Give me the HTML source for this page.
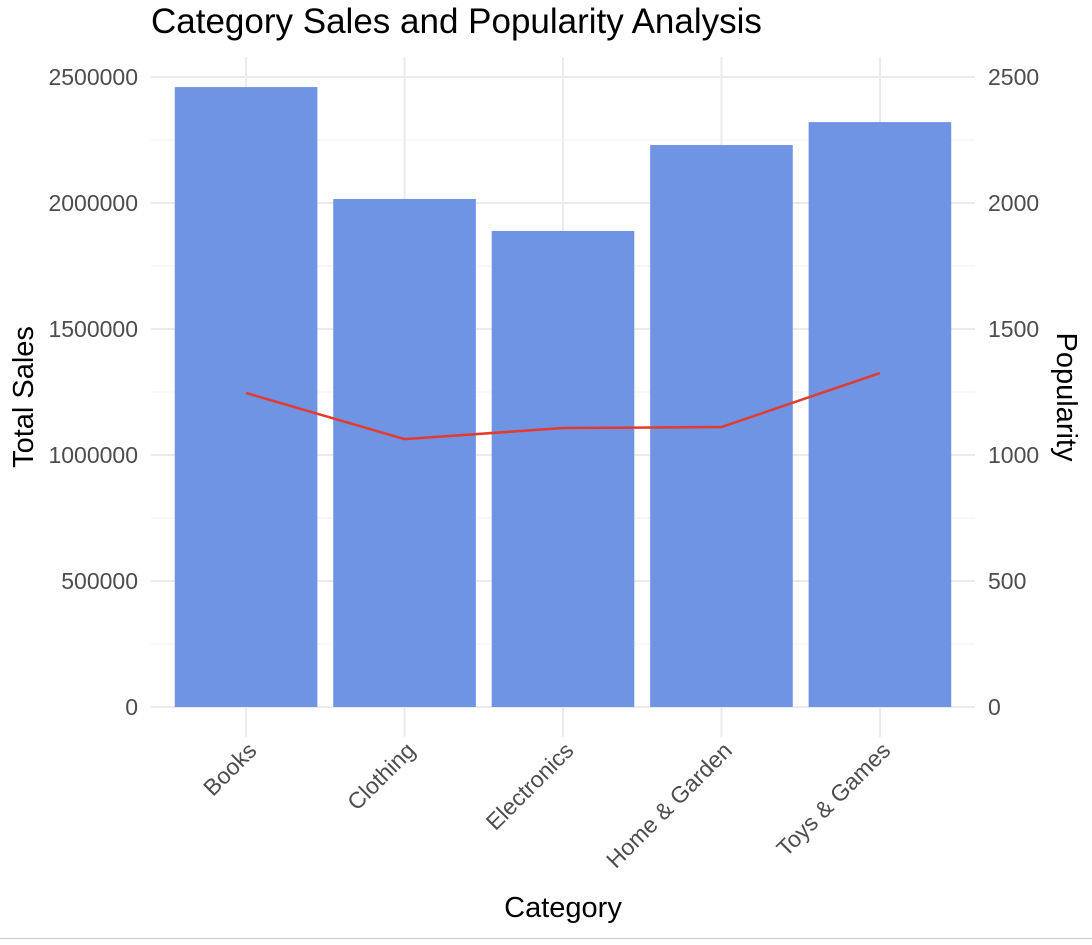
<!DOCTYPE html>
<html><head><meta charset="utf-8"><style>
body{margin:0;background:#fff;width:1092px;height:940px;overflow:hidden;font-family:"Liberation Sans",sans-serif;}
</style></head><body>
<svg id="chart" width="1092" height="940" xmlns="http://www.w3.org/2000/svg" font-family="Liberation Sans, sans-serif">
<line x1="0" y1="938.5" x2="1092" y2="938.5" stroke="#cccccc" stroke-width="1"/>
<g id="grid"></g>
<g id="bars"></g>
<g id="line"></g>
<g id="axes"></g>
<text x="151" y="33" font-size="35" fill="#000">Category Sales and Popularity Analysis</text>
<text x="563" y="917" font-size="29" text-anchor="middle" fill="#000">Category</text>
<text transform="translate(33,397) rotate(-90)" font-size="29" text-anchor="middle" fill="#000">Total Sales</text>
<text transform="translate(1057,397) rotate(90)" font-size="29" text-anchor="middle" fill="#000">Popularity</text>
</svg>
<script>
const categories=["Books","Clothing","Electronics","Home & Garden","Toys & Games"];
const sales=[2460000,2016000,1889000,2230000,2321000];
const popularity=[1246,1063,1107,1111,1325];
const salesTicks=[0,500000,1000000,1500000,2000000,2500000];
const popTicks=[0,500,1000,1500,2000,2500];
const NS="http://www.w3.org/2000/svg";
const left=151,right=975,y0=707,yTop=77,maxV=2500000;
const band=(right-left)/(categories.length+0.2);
function xPos(i){return left+band*(0.6+i);}
function yS(v){return y0-(v/maxV)*(y0-yTop);}
function yP(v){return yS(v*1000);}
function mk(tag,attrs,parent){const e=document.createElementNS(NS,tag);for(const k in attrs)e.setAttribute(k,attrs[k]);document.getElementById(parent).appendChild(e);return e;}
for(let i=0;i<salesTicks.length;i++){
  const g=mk('line',{x1:left,x2:right,y1:yS(salesTicks[i]),y2:yS(salesTicks[i]),stroke:'#ebebeb','stroke-width':2},'grid');
  
  
  if(i<salesTicks.length-1){
    const m=(salesTicks[i]+salesTicks[i+1])/2;
    const mg=mk('line',{x1:left,x2:right,y1:yS(m),y2:yS(m),stroke:'#f2f2f2','stroke-width':1},'grid');
    
    
  }
}
categories.forEach((c,i)=>{
  const v=mk('line',{x1:xPos(i),x2:xPos(i),y1:yTop-20,y2:y0+30,stroke:'#ebebeb','stroke-width':2},'grid');
  
  
});
const bw=band*0.9;
categories.forEach((c,i)=>{
  const r=mk('rect',{x:xPos(i)-bw/2,y:yS(sales[i]),width:bw,height:y0-yS(sales[i]),fill:'#6f94e3'},'bars');
  
  
});
const pts=popularity.map((p,i)=>xPos(i)+','+yP(p)).join(' ');
const pl=mk('polyline',{points:pts,fill:'none',stroke:'#e33b2e','stroke-width':2.5},'line');


salesTicks.forEach(t=>{
  const tx=mk('text',{x:138,y:yS(t)+8,'font-size':23,'text-anchor':'end',fill:'#4d4d4d'},'axes');
  tx.textContent=String(t);
  
  
});
popTicks.forEach(t=>{
  const tx=mk('text',{x:988,y:yP(t)+8,'font-size':23,'text-anchor':'start',fill:'#4d4d4d'},'axes');
  tx.textContent=String(t);
  
  
});
categories.forEach((c,i)=>{
  const x=xPos(i)+12,y=752;
  const tx=mk('text',{x:x,y:y,'font-size':23,'text-anchor':'end',fill:'#4d4d4d',transform:'rotate(-45 '+x+' '+y+')'},'axes');
  tx.textContent=c;
  
  
});
</script>
</body></html>
